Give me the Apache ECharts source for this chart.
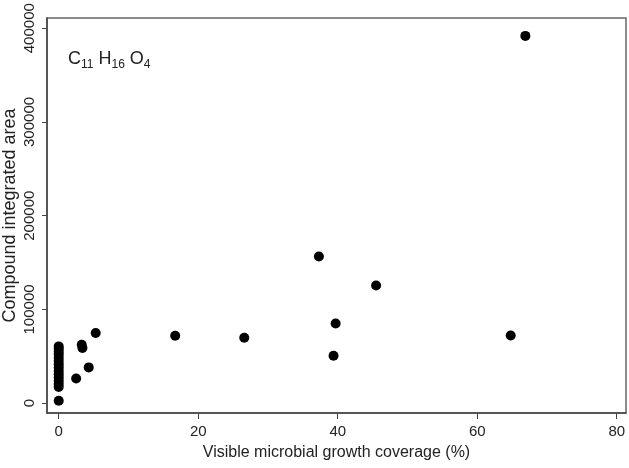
<!DOCTYPE html>
<html>
<head>
<meta charset="utf-8">
<script src="https://cdn.jsdelivr.net/npm/echarts@6/dist/echarts.min.js"></script>
<style>html,body{margin:0;padding:0;background:#fff}#c{width:629px;height:468px}</style>
</head>
<body>
<div id="c"></div>
<script>
// coverage (%) and compound integrated area
var coverage = [0, 0, 0, 0, 0, 0, 0, 0, 0, 0, 0, 0, 0, 0, 0,
  2.5, 3.3, 3.4, 4.3, 5.3, 16.7, 26.6, 37.3, 39.4, 39.7, 45.5, 64.8, 66.9];
var area = [2700, 17300, 20500, 24000, 27500, 31000, 34500, 38000, 41500, 45000, 48500, 52000, 55000, 58000, 60600,
  26400, 62400, 58800, 38200, 74800, 72000, 69800, 156500, 50600, 85100, 125600, 72300, 391800];
var xTicks = [0, 20, 40, 60, 80];
var yTicks = [0, 100000, 200000, 300000, 400000];

var points = coverage.map(function (c, i) { return [c, area[i]]; });
var font = 'Liberation Sans, Arial, sans-serif';
var chart = echarts.init(document.getElementById('c'));
chart.setOption({
  animation: false,
  backgroundColor: '#fff',
  title: {
    text: '{a|C}{s|11} {a|H}{s|16} {a|O}{s|4}',
    left: 63, top: 42,
    textStyle: {
      fontWeight: 'normal',
      rich: {
        a: { fontFamily: font, fontSize: 18, fontWeight: 'normal', color: '#222', lineHeight: 22, verticalAlign: 'middle' },
        s: { fontFamily: font, fontSize: 12, fontWeight: 'normal', color: '#222', lineHeight: 24, verticalAlign: 'bottom' }
      }
    }
  },
  grid: { left: 47, right: 3, top: 18, bottom: 55, show: true, borderColor: '#666', borderWidth: 1.5, outerBoundsMode: 'none', containLabel: false },
  xAxis: {
    type: 'value', min: -1.68, max: 81.33,
    name: 'Visible microbial growth coverage (%)', nameLocation: 'middle', nameGap: 32,
    nameMoveOverlap: false,
    nameTextStyle: { fontFamily: font, fontSize: 16, color: '#222' },
    splitLine: { show: false },
    axisLine: { onZero: false, lineStyle: { color: '#444', width: 1.5 } },
    axisTick: { length: 6, lineStyle: { color: '#444' }, customValues: xTicks },
    axisLabel: { fontFamily: font, fontSize: 15, color: '#222', margin: 11, customValues: xTicks, formatter: function (v) { return String(v); } }
  },
  yAxis: {
    type: 'value', min: -10450, max: 410870,
    name: 'Compound integrated area', nameLocation: 'middle', nameGap: 28,
    nameMoveOverlap: false,
    nameTextStyle: { fontFamily: font, fontSize: 18, color: '#222' },
    splitLine: { show: false },
    axisLine: { onZero: false, lineStyle: { color: '#444', width: 1.5 } },
    axisTick: { length: 5, lineStyle: { color: '#444' }, customValues: yTicks },
    axisLabel: { fontFamily: font, fontSize: 15, color: '#222', rotate: 90, margin: 10, customValues: yTicks, formatter: function (v) { return String(v); } }
  },
  series: [{
    type: 'scatter',
    data: points,
    symbolSize: 10,
    itemStyle: { color: '#000', opacity: 1 }
  }]
});
</script>
</body>
</html>
